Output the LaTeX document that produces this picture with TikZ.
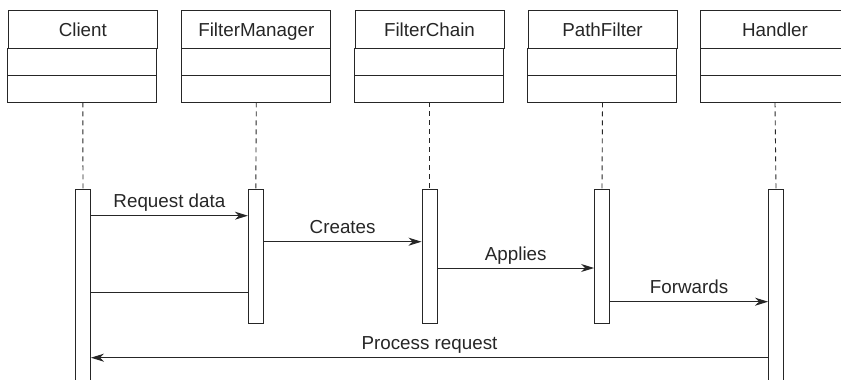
\documentclass[tikz,border=0pt]{standalone}
\usepackage{fontspec}
\setmainfont{Liberation Sans}
\usetikzlibrary{arrows.meta}

\begin{document}
\begin{tikzpicture}[x=1pt,y=-1pt,line width=0.9pt,color=black!85,
  font=\fontsize{18.8}{22}\selectfont,
  head/.style={draw,minimum width=149pt,minimum height=38pt,inner sep=0pt,text height=14pt,text depth=0pt},
  bar/.style={draw,fill=white,minimum width=15pt,inner sep=0pt},
  life/.style={dash pattern=on 5pt off 4pt},
  msg/.style={-{Stealth[length=13pt,width=8pt,inset=4pt]}},
  lbl/.style={anchor=base,yshift=8pt}]
  \useasboundingbox (0,0) rectangle (841,380);

  % class heads
  \node[head] (client) at (82.8,29) {Client};
  \node[head] (manager) at (256.3,29) {FilterManager};
  \node[head] (chain) at (429.5,29) {FilterChain};
  \node[head] (path) at (602.5,29) {PathFilter};
  \node[head] (handler) at (775,29) {Handler};
  \draw (client.south west) rectangle ++(149,54) (client.south west) ++(0,27) -- ++(149,0);
  \draw (manager.south west) rectangle ++(149,54) (manager.south west) ++(0,27) -- ++(149,0);
  \draw (chain.south west) rectangle ++(149,54) (chain.south west) ++(0,27) -- ++(149,0);
  \draw (path.south west) rectangle ++(149,54) (path.south west) ++(0,27) -- ++(149,0);
  \draw (handler.south west) rectangle ++(149,54) (handler.south west) ++(0,27) -- ++(149,0);

  % activation bars
  \node[bar,minimum height=215pt] (cbar) at (83,296.5) {};
  \node[bar,minimum height=134pt] (mbar) at (255.8,256) {};
  \node[bar,minimum height=134pt] (fbar) at (429.5,256) {};
  \node[bar,minimum height=134pt] (pbar) at (602,256) {};
  \node[bar,minimum height=215pt] (hbar) at (776,296.5) {};

  % lifelines
  \draw[life] ([yshift=-54pt]client.south) -- (cbar.north);
  \draw[life] ([yshift=-54pt]manager.south) -- (mbar.north);
  \draw[life] ([yshift=-54pt]chain.south) -- (fbar.north);
  \draw[life] ([yshift=-54pt]path.south) -- (pbar.north);
  \draw[life] ([yshift=-54pt]handler.south) -- (hbar.north);

  % messages
  \coordinate (m1) at (0,215.7);
  \coordinate (m2) at (0,241.7);
  \coordinate (m3) at (0,268);
  \coordinate (m4) at (0,292);
  \coordinate (m5) at (0,301.7);
  \coordinate (m6) at (0,357.7);
  \draw[msg] (cbar.east |- m1) -- (mbar.west |- m1) node[lbl,midway] {Request data};
  \draw[msg] (mbar.east |- m2) -- (fbar.west |- m2) node[lbl,midway] {Creates};
  \draw[msg] (fbar.east |- m3) -- (pbar.west |- m3) node[lbl,midway] {Applies};
  \draw (mbar.west |- m4) -- (cbar.east |- m4);
  \draw[msg] (pbar.east |- m5) -- (hbar.west |- m5) node[lbl,midway] {Forwards};
  \draw[msg] (hbar.west |- m6) -- (cbar.east |- m6) node[lbl,midway] {Process request};
\end{tikzpicture}
\end{document}
